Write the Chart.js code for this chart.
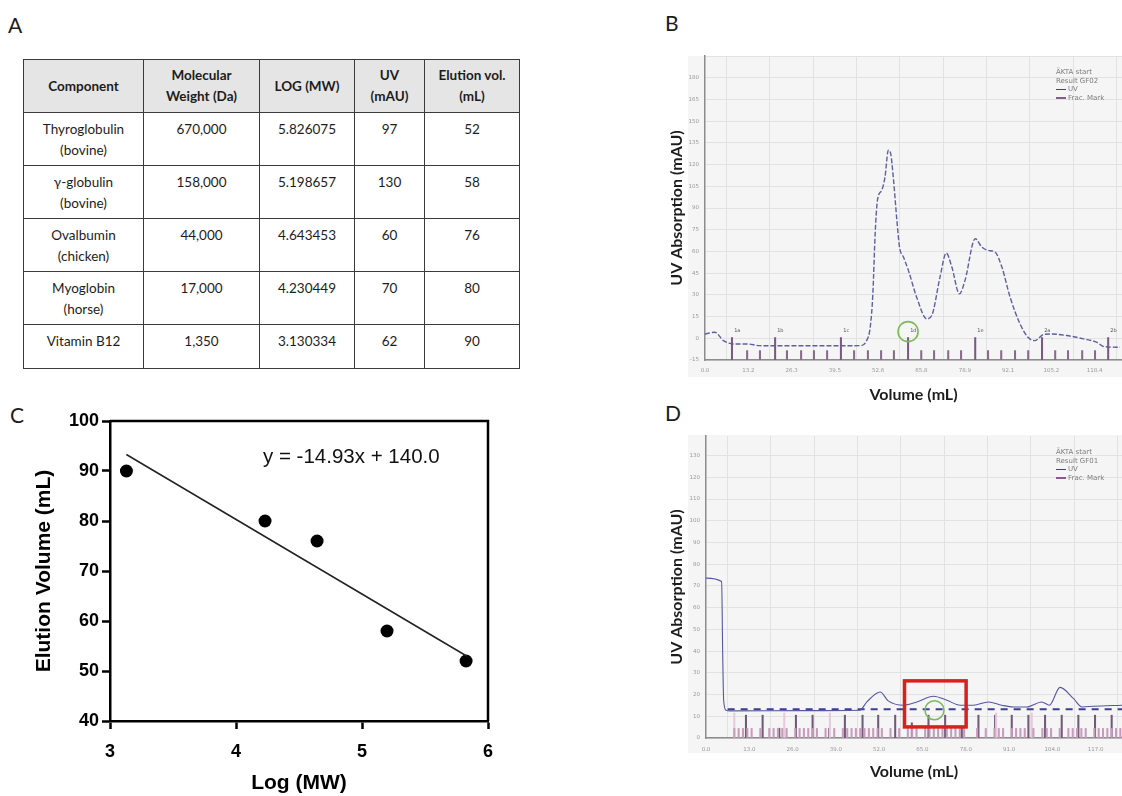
<!DOCTYPE html>
<html>
<head>
<meta charset="utf-8">
<script src="https://cdn.jsdelivr.net/npm/chart.js@4.4.0/dist/chart.umd.min.js"></script>
<style>
  html, body { margin: 0; padding: 0; background: #fff; }
  body { width: 1122px; height: 796px; position: relative; overflow: hidden; font-family: Lato, 'Open Sans', sans-serif; color: #1c1c1c; }
  .plabel { position: absolute; font-size: 21px; line-height: 21px; }
  #tableA { position: absolute; left: 23px; top: 59px; border-collapse: collapse; table-layout: fixed; }
  #tableA th, #tableA td { border: 1.5px solid #3a3a3a; text-align: center; font-size: 13.5px; line-height: 21px; padding: 6px 2px 0; box-sizing: border-box; }
  #tableA th { background: #e6e5e5; font-weight: bold; vertical-align: middle; padding: 0 2px; height: 53px; }
  #tableA td { vertical-align: top; height: 53px; }
  #tableA tr.last td { height: 44px; }
  canvas { position: absolute; }
  #eq { position: absolute; left: 263px; top: 444px; font-family: 'Liberation Sans', Arial, sans-serif; font-size: 20.5px; color: #111; }
  .akta { position: absolute; font-family: 'DejaVu Sans', sans-serif; font-size: 7px; line-height: 8.7px; color: #7c7c7c; }
  .akta .ln { display: inline-block; width: 10px; height: 1.5px; vertical-align: middle; margin-right: 2px; }
</style>
</head>
<body>

<div class="plabel" style="left:8px; top:14px;">A</div>
<div class="plabel" style="left:665px; top:12px;">B</div>
<div class="plabel" style="left:10px; top:404px;">C</div>
<div class="plabel" style="left:665px; top:402px;">D</div>

<table id="tableA">
  <colgroup><col style="width:120px"><col style="width:116px"><col style="width:95px"><col style="width:70px"><col style="width:95px"></colgroup>
  <thead>
    <tr><th>Component</th><th>Molecular<br>Weight (Da)</th><th>LOG (MW)</th><th>UV<br>(mAU)</th><th>Elution vol.<br>(mL)</th></tr>
  </thead>
  <tbody id="tableBody"></tbody>
</table>

<canvas id="chartC" width="620" height="396" style="left:0px; top:400px;"></canvas>
<div id="eq">y = -14.93x + 140.0</div>

<canvas id="chartB" width="482" height="370" style="left:640px; top:40px;"></canvas>
<div class="akta" style="left:1056px; top:68px;">ÄKTA start<br>Result GF02<br><span class="ln" style="background:#3d3d8c"></span>UV<br><span class="ln" style="background:#8a5a8c"></span>Frac. Mark</div>

<canvas id="chartD" width="482" height="370" style="left:640px; top:420px;"></canvas>
<div class="akta" style="left:1056px; top:448px;">ÄKTA start<br>Result GF01<br><span class="ln" style="background:#3d3d8c"></span>UV<br><span class="ln" style="background:#8a5a8c"></span>Frac. Mark</div>

<script>
// ===== TABLE DATA (panel A) =====
const components = ['Thyroglobulin<br>(bovine)', 'γ-globulin<br>(bovine)', 'Ovalbumin<br>(chicken)', 'Myoglobin<br>(horse)', 'Vitamin B12'];
const molWeights = ['670,000', '158,000', '44,000', '17,000', '1,350'];
const logMW = [5.826075, 5.198657, 4.643453, 4.230449, 3.130334];
const uvPeak = [97, 130, 60, 70, 62];
const elutionVol = [52, 58, 76, 80, 90];

// ===== CALIBRATION FIT (panel C) =====
const fitX = [3.13, 5.83];
const fitY = [93.3, 53.0];

// ===== CHROMATOGRAM B =====
const uvVolB = [0, 3.0, 5.6, 8.6, 12.7, 16.7, 30, 47.1, 49.1, 50.2, 51.0, 51.7, 52.4, 53.7, 54.7, 55.7, 56.4, 57.2, 58.3, 59.1, 60.3, 61.8, 64.3, 67.4, 68.9, 71.4, 73.3, 75.0, 77.3, 79.0, 82.1, 84.1, 86.1, 88.1, 90.2, 92.7, 95.7, 98.3, 100.3, 102.8, 104.9, 109.9, 115.0, 119.1, 121.1, 126.1];
const uvAbsB = [3.0, 4.2, -1.6, -3.9, -3.9, -5.1, -5.2, -5.1, -1.6, 7.6, 30.7, 72.3, 95.4, 102.3, 111.5, 130, 127.7, 111.5, 81.5, 63, 56.1, 46.9, 28.4, 13.4, 15.7, 42.2, 58.9, 49.2, 30.7, 40, 68.8, 63.0, 60.7, 59.6, 49.2, 28.4, 10.0, 0.3, -1.6, 2.6, 3.0, 1.9, -0.4, -2.8, -5.7, -6.2];
const fracTallB = [8.2, 21.3, 41.3, 61.7, 82.1, 102.4, 122.5];
const fracTallLabelsB = ['1a', '1b', '1c', '1d', '1e', '2a', '2b'];
const fracShortB = [12.8, 16.7, 24.9, 29.2, 33.1, 37.1, 45.3, 49.5, 53.5, 57.4, 65.7, 69.6, 73.9, 77.8, 86.0, 90.0, 94.2, 98.2, 106.4, 110.3, 114.6, 118.5];

// ===== CHROMATOGRAM D =====
const uvVolD = [0, 4.7, 5.0, 5.3, 6.0, 7.2, 30, 46.2, 48.3, 52.3, 54.7, 59.3, 63.3, 68.3, 72.3, 76.3, 80.3, 84.8, 88.8, 92.3, 96.3, 100.8, 103.1, 106.3, 110.3, 112.9, 116.3, 124.9];
const uvAbsD = [73.6, 72.0, 40, 17.4, 12.8, 12.5, 12.6, 12.8, 16.6, 21.2, 17.1, 15.1, 16.6, 19.2, 17.4, 15.1, 15.1, 16.6, 15.1, 14.3, 14.3, 16.6, 15.1, 23.3, 18.2, 14.3, 14.6, 15.1];
const fracRowVolD = [6.5, 124.9];
const fracRowAbsD = [13.2, 13.2];
const fracTallD = [12.0, 17.0, 22.0, 27.0, 32.0, 37.0, 41.7, 47.0, 51.7, 56.8, 61.8, 66.8, 71.8, 76.8, 81.8, 86.8, 91.8, 96.8, 101.8, 106.8, 111.8, 116.8, 121.8];
const fracTallTopD = [10.5, 10.5, 4.5, 10.5, 10.5, 4.5, 10.5, 10.5, 10.5, 10.5, 7, 10.5, 10.5, 4.5, 10.5, 10.5, 10.5, 10.5, 10.5, 10.5, 10.5, 10.5, 10.5];
const fracPaleD = [8.5, 23.5, 37.2, 87.1, 97.8];
const fracShortD = [8.5, 9.8, 11.1, 12.4, 13.7, 16.3, 19.0, 20.3, 21.6, 22.9, 24.2, 26.8, 28.1, 29.4, 30.7, 32.0, 33.3, 35.9, 38.5, 41.1, 42.4, 43.7, 45.0, 46.3, 47.6, 48.9, 50.2, 51.5, 52.8, 55.4, 58.0, 60.6, 61.9, 63.2, 65.8, 67.1, 68.4, 69.7, 71.0, 72.3, 73.6, 74.9, 76.2, 77.5, 81.4, 84.0, 86.6, 87.9, 89.2, 91.8, 93.1, 94.4, 95.7, 98.3, 101.0, 102.3, 103.6, 106.2, 108.8, 110.1, 111.4, 112.7, 114.0, 116.6, 117.9, 119.2, 120.5, 121.8, 123.1, 124.4];

// ===== FILL TABLE =====
const tbody = document.getElementById('tableBody');
components.forEach((c, i) => {
  const tr = document.createElement('tr');
  if (i === components.length - 1) tr.className = 'last';
  tr.innerHTML = '<td>' + c + '</td><td>' + molWeights[i] + '</td><td>' + logMW[i].toFixed(6) +
    '</td><td>' + uvPeak[i] + '</td><td>' + elutionVol[i] + '</td>';
  tbody.appendChild(tr);
});

Chart.defaults.font.family = "'Liberation Sans', Arial, sans-serif";
Chart.defaults.animation = false;

const toXY = (xs, ys) => xs.map((x, i) => ({ x: x, y: ys[i] }));

// ===== PANEL C: CALIBRATION =====
const frameBox = {
  id: 'frameBox',
  afterDraw(chart) {
    const { ctx, chartArea } = chart;
    ctx.save();
    ctx.strokeStyle = '#000';
    ctx.lineWidth = 2.5;
    ctx.beginPath();
    ctx.moveTo(chartArea.left, chartArea.top);
    ctx.lineTo(chartArea.right, chartArea.top);
    ctx.lineTo(chartArea.right, chartArea.bottom);
    ctx.stroke();
    ctx.restore();
  }
};

new Chart(document.getElementById('chartC'), {
  type: 'scatter',
  data: {
    datasets: [
      { type: 'line', data: toXY(fitX, fitY), borderColor: '#222', borderWidth: 1.5, pointRadius: 0 },
      { data: toXY(logMW, elutionVol), backgroundColor: '#000', borderWidth: 0, pointRadius: 6.5 }
    ]
  },
  options: {
    responsive: false,
    layout: { padding: { top: 21, right: 132 } },
    plugins: { legend: { display: false }, tooltip: { enabled: false } },
    scales: {
      x: {
        type: 'linear', min: 3, max: 6,
        afterFit(s) { s.height = 75; },
        ticks: { stepSize: 1, color: '#000', font: { size: 18, weight: 'bold' }, padding: 12 },
        grid: { drawOnChartArea: false, tickLength: 8, tickColor: '#000', tickWidth: 2.5 },
        border: { color: '#000', width: 2.5 },
        title: { display: true, text: 'Log (MW)', color: '#000', font: { size: 21, weight: 'bold' }, padding: 0 }
      },
      y: {
        min: 40, max: 100,
        afterFit(s) { s.width = 110; },
        ticks: { stepSize: 10, color: '#000', font: { size: 18, weight: 'bold' }, padding: 3 },
        grid: { drawOnChartArea: false, tickLength: 8, tickColor: '#000', tickWidth: 2.5 },
        border: { color: '#000', width: 2.5 },
        title: { display: true, text: 'Elution Volume (mL)', color: '#000', font: { size: 21, weight: 'bold' }, padding: { top: 32, bottom: 0 } }
      }
    }
  },
  plugins: [frameBox]
});

// ===== CHROMATOGRAM HELPERS =====
const chromBg = {
  id: 'chromBg',
  beforeDraw(chart, args, opts) {
    const { ctx, chartArea } = chart;
    ctx.save();
    ctx.fillStyle = '#f5f5f5';
    ctx.fillRect(chartArea.left - opts.left, chartArea.top - opts.top, chart.width, chartArea.bottom - chartArea.top + opts.top + opts.bottom);
    ctx.restore();
  }
};

const chromMarks = {
  id: 'chromMarks',
  afterDatasetsDraw(chart, args, opts) {
    const { ctx, scales: { x, y } } = chart;
    ctx.save();
    (opts.labels || []).forEach(l => {
      ctx.font = '5px "DejaVu Sans"';
      ctx.fillStyle = '#555';
      ctx.textAlign = 'center';
      ctx.fillText(l.text, x.getPixelForValue(l.x), y.getPixelForValue(l.y));
    });
    (opts.circles || []).forEach(c => {
      ctx.strokeStyle = '#7dbb5a';
      ctx.lineWidth = 1.6;
      ctx.beginPath();
      ctx.arc(x.getPixelForValue(c.x), y.getPixelForValue(c.y), c.r, 0, Math.PI * 2);
      ctx.stroke();
    });
    (opts.boxes || []).forEach(b => {
      const x0 = x.getPixelForValue(b.x0), x1 = x.getPixelForValue(b.x1);
      const y0 = y.getPixelForValue(b.y0), y1 = y.getPixelForValue(b.y1);
      ctx.strokeStyle = '#d9201f';
      ctx.lineWidth = 3.5;
      ctx.strokeRect(x0, y1, x1 - x0, y0 - y1);
    });
    ctx.restore();
  }
};

const smallTicks = { size: 5.5, family: "'DejaVu Sans', sans-serif" };
const chromTitle = { size: 16, weight: 'bold', family: 'Lato, sans-serif' };

function fracBars(xs, lo, tops, color) {
  return {
    type: 'bar',
    data: xs.map((v, i) => ({ x: v, y: [lo, Array.isArray(tops) ? tops[i] : tops] })),
    backgroundColor: color,
    barThickness: 1.4,
    grouped: false,
    order: 2
  };
}

// ===== PANEL B =====
new Chart(document.getElementById('chartB'), {
  type: 'line',
  data: {
    datasets: [
      fracBars(fracShortB, -15, -8.5, '#8a6a8c'),
      fracBars(fracTallB, -15, 0.5, '#7a5a80'),
      { type: 'line', data: toXY(uvVolB, uvAbsB), borderColor: '#5d5f9e', borderWidth: 1.4, borderDash: [5, 2],
        pointRadius: 0, cubicInterpolationMode: 'monotone', order: 1 }
    ]
  },
  options: {
    responsive: false,
    layout: { padding: { top: 16, right: 0 } },
    plugins: {
      legend: { display: false }, tooltip: { enabled: false },
      chromBg: { left: 17, top: 0, bottom: 17 },
      chromMarks: {
        labels: fracTallB.map((v, i) => ({ x: v + 1.6, y: 4.5, text: fracTallLabelsB[i] })),
        circles: [{ x: 61.7, y: 4.6, r: 10 }]
      }
    },
    scales: {
      x: {
        type: 'linear', min: 0, max: 126.7, offset: false,
        afterFit(s) { s.height = 50; },
        ticks: { stepSize: 13.155, includeBounds: false, font: smallTicks, color: '#9a9a9a', padding: 7,
          callback: v => v.toFixed(1) },
        grid: { color: '#e2e2e2', drawTicks: false },
        border: { color: '#8c8c8c', width: 1.5 },
        title: { display: true, text: 'Volume (mL)', color: '#1c1c1c', font: chromTitle, padding: { top: 0, bottom: 6 } }
      },
      y: {
        min: -15, max: 195,
        afterFit(s) { s.width = 65; },
        ticks: { stepSize: 15, includeBounds: false, font: smallTicks, color: '#9a9a9a', padding: 6,
          callback: v => (v > 180 ? '' : v) },
        grid: { color: '#e2e2e2', drawTicks: false },
        border: { color: '#8c8c8c', width: 1.5 },
        title: { display: true, text: 'UV Absorption (mAU)', color: '#1c1c1c', font: chromTitle, padding: { top: 27, bottom: 0 } }
      }
    }
  },
  plugins: [chromBg, chromMarks]
});

// ===== PANEL D =====
new Chart(document.getElementById('chartD'), {
  type: 'line',
  data: {
    datasets: [
      fracBars(fracShortD, 0, 4.4, '#c79bbb'),
      fracBars(fracPaleD, 0, 11.5, '#e6c9da'),
      fracBars(fracTallD, 0, fracTallTopD, '#6f5a78'),
      { type: 'line', data: toXY(fracRowVolD, fracRowAbsD), borderColor: '#3b3f8e', borderWidth: 2, borderDash: [7, 6],
        pointRadius: 0, order: 1 },
      { type: 'line', data: toXY(uvVolD, uvAbsD), borderColor: '#5557a0', borderWidth: 1.1,
        pointRadius: 0, cubicInterpolationMode: 'monotone', order: 0 }
    ]
  },
  options: {
    responsive: false,
    layout: { padding: { top: 16, right: 0 } },
    plugins: {
      legend: { display: false }, tooltip: { enabled: false },
      chromBg: { left: 18, top: 1, bottom: 15 },
      chromMarks: {
        circles: [{ x: 68.6, y: 12.8, r: 9.5 }],
        boxes: [{ x0: 59.6, x1: 78.1, y0: 5.1, y1: 26.3 }]
      }
    },
    scales: {
      x: {
        type: 'linear', min: 0, max: 124.9, offset: false,
        afterFit(s) { s.height = 52; },
        ticks: { stepSize: 13, includeBounds: false, font: smallTicks, color: '#9a9a9a', padding: 8,
          callback: v => v.toFixed(1) },
        grid: { color: '#e2e2e2', drawTicks: false },
        border: { color: '#8c8c8c', width: 1.5 },
        title: { display: true, text: 'Volume (mL)', color: '#1c1c1c', font: chromTitle, padding: { top: 0, bottom: 9 } }
      },
      y: {
        min: 0, max: 139,
        afterFit(s) { s.width = 66; },
        ticks: { stepSize: 10, includeBounds: false, font: smallTicks, color: '#9a9a9a', padding: 6 },
        grid: { color: '#e2e2e2', drawTicks: false },
        border: { color: '#8c8c8c', width: 1.5 },
        title: { display: true, text: 'UV Absorption (mAU)', color: '#1c1c1c', font: chromTitle, padding: { top: 27, bottom: 0 } }
      }
    }
  },
  plugins: [chromBg, chromMarks]
});
</script>
</body>
</html>
